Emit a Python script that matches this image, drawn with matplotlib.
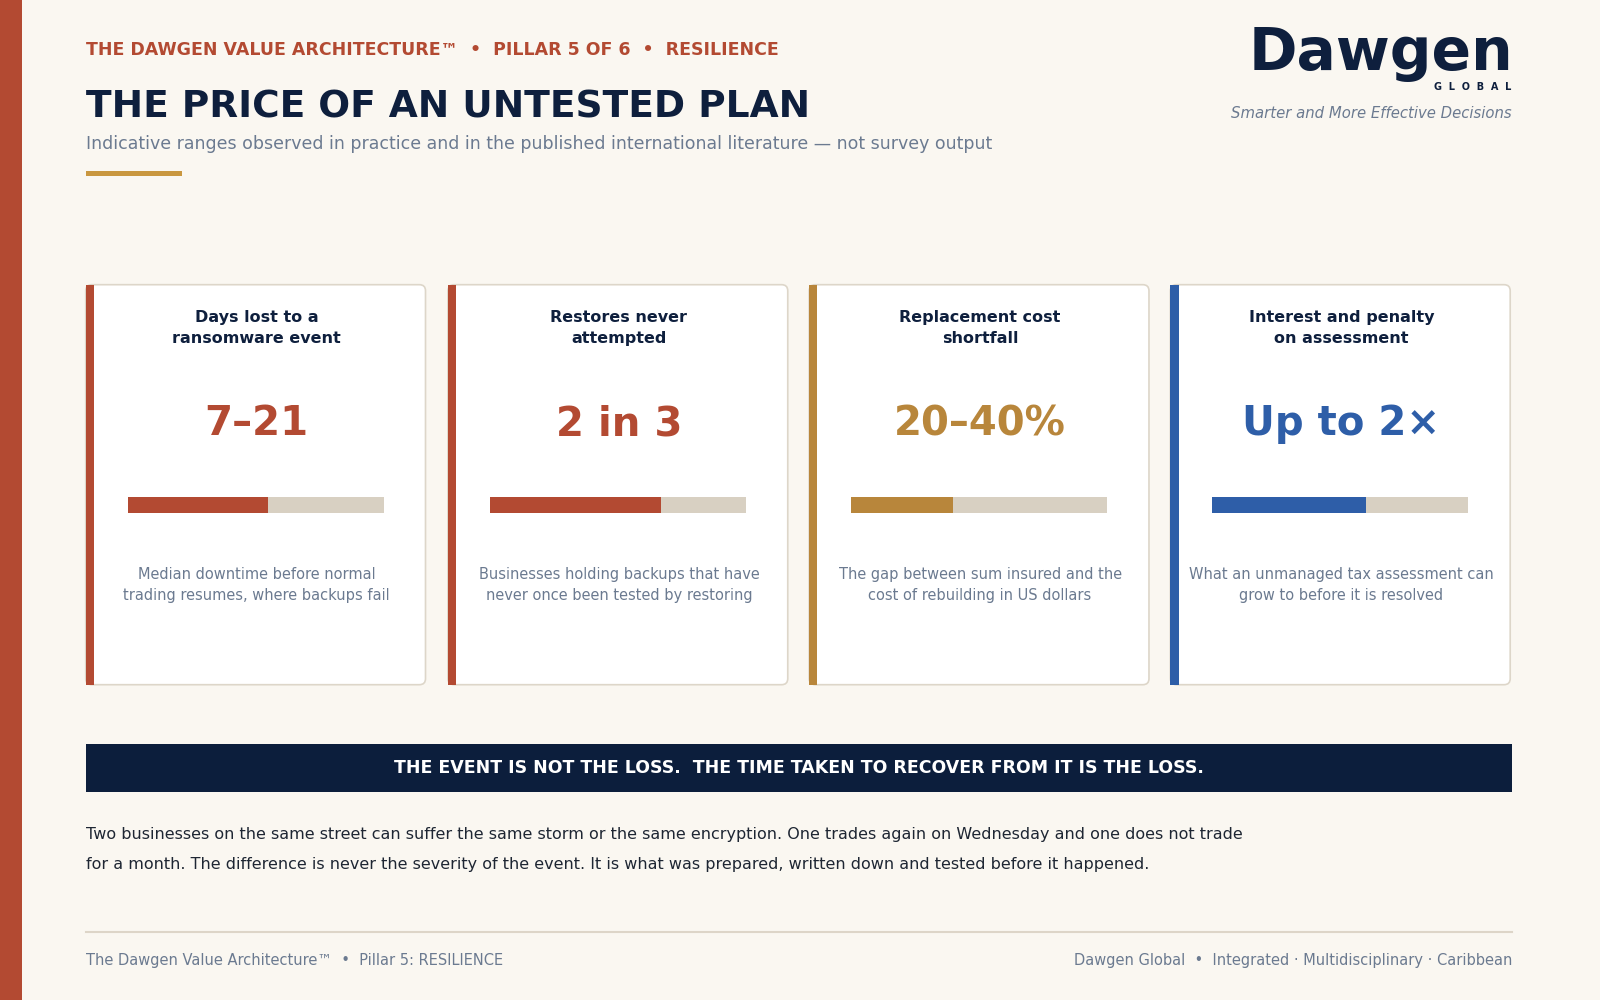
import matplotlib.pyplot as plt
from matplotlib.patches import Rectangle, FancyBboxPatch

# card data
card_titles = ["Days lost to a\nransomware event",
               "Restores never\nattempted",
               "Replacement cost\nshortfall",
               "Interest and penalty\non assessment"]
card_values = ["7\u201321", "2 in 3", "20\u201340%", "Up to 2\u00d7"]
card_fill = [0.55, 0.667, 0.40, 0.60]
card_desc = ["Median downtime before normal\ntrading resumes, where backups fail",
             "Businesses holding backups that have\nnever once been tested by restoring",
             "The gap between sum insured and the\ncost of rebuilding in US dollars",
             "What an unmanaged tax assessment can\ngrow to before it is resolved"]

RED = "#B34A32"
GOLD = "#B8863B"
BLUE = "#2E5EA8"
NAVY = "#0E1F3D"
GREY = "#6B7A90"
TRACK = "#D8D0C2"
BG = "#FAF7F1"
card_colors = [RED, RED, GOLD, BLUE]

eyebrow = "THE DAWGEN VALUE ARCHITECTURE\u2122  \u2022  PILLAR 5 OF 6  \u2022  RESILIENCE"
title = "THE PRICE OF AN UNTESTED PLAN"
subtitle = ("Indicative ranges observed in practice and in the published "
            "international literature \u2014 not survey output")
banner = "THE EVENT IS NOT THE LOSS.  THE TIME TAKEN TO RECOVER FROM IT IS THE LOSS."
body = ["Two businesses on the same street can suffer the same storm or the same encryption. "
        "One trades again on Wednesday and one does not trade",
        "for a month. The difference is never the severity of the event. "
        "It is what was prepared, written down and tested before it happened."]
foot_left = "The Dawgen Value Architecture\u2122  \u2022  Pillar 5: RESILIENCE"
foot_right = "Dawgen Global  \u2022  Integrated \u00b7 Multidisciplinary \u00b7 Caribbean"

W, H = 1568, 980
fig = plt.figure(figsize=(16, 10), dpi=100)
fig.patch.set_facecolor(BG)
ax = fig.add_axes([0, 0, 1, 1])
ax.set_xlim(0, W)
ax.set_ylim(H, 0)
ax.axis("off")

COND = dict(family="DejaVu Sans", fontstretch="condensed")

# left stripe
ax.add_patch(Rectangle((0, 0), 22, H, color=RED, lw=0))

# header
ax.text(84, 49, eyebrow, color=RED, fontsize=12.5, fontweight="bold", va="center")
ax.text(84, 105, title, color=NAVY, fontsize=27, fontweight="bold", va="center")
ax.text(84, 141, subtitle, color=GREY, fontsize=12.5, va="center")
ax.add_patch(Rectangle((84, 168), 94, 4, color="#C9973F", lw=0))

# logo
ax.text(1483, 52, "Dawgen", color=NAVY, fontsize=42, fontweight="heavy",
        ha="right", va="center")
ax.text(1481, 85, "G  L  O  B  A  L", color=NAVY, fontsize=7, fontweight="bold",
        ha="right", va="center")
ax.text(1481, 111, "Smarter and More Effective Decisions", color=GREY,
        fontsize=10.7, style="italic", ha="right", va="center")

# cards
card_x = [84, 439, 793, 1147]
cw, top, bot = 333, 279, 671
for i in range(4):
    x0 = card_x[i]
    cx = x0 + cw / 2 + 1
    ax.add_patch(FancyBboxPatch((x0, top), cw, bot - top,
                                boxstyle="round,pad=0,rounding_size=6",
                                fc="white", ec="#DDD6C9", lw=1.2))
    ax.add_patch(Rectangle((x0, top), 8, bot - top, color=card_colors[i], lw=0))
    ax.text(cx, 321, card_titles[i], color=NAVY, fontsize=11.5,
            fontweight="bold", ha="center", va="center", linespacing=1.5)
    ax.text(cx, 416, card_values[i], color=card_colors[i], fontsize=29,
            fontweight="bold", ha="center", va="center")
    bx = x0 + 41
    ax.barh(495, 251, left=bx, height=16, color=TRACK, lw=0)
    ax.barh(495, 251 * card_fill[i], left=bx, height=16, color=card_colors[i], lw=0)
    ax.text(cx, 573, card_desc[i], color=GREY, fontsize=11.7,
            ha="center", va="center", linespacing=1.5, **COND)

# banner
ax.add_patch(Rectangle((84, 729), 1398, 47, color="#0C1E3C", lw=0))
ax.text(783, 753, banner, color="white", fontsize=12.5, fontweight="bold",
        ha="center", va="center")

# body
ax.text(84, 818, body[0], color="#1E2633", fontsize=11.5, va="center")
ax.text(84, 847, body[1], color="#1E2633", fontsize=11.5, va="center")

# footer
ax.plot([84, 1482], [913, 913], color="#DDD5C8", lw=1.5)
ax.text(84, 941, foot_left, color=GREY, fontsize=10.5, va="center")
ax.text(1482, 941, foot_right, color=GREY, fontsize=10.5, ha="right", va="center")

fig.savefig("out.png", dpi=100, facecolor=BG)
